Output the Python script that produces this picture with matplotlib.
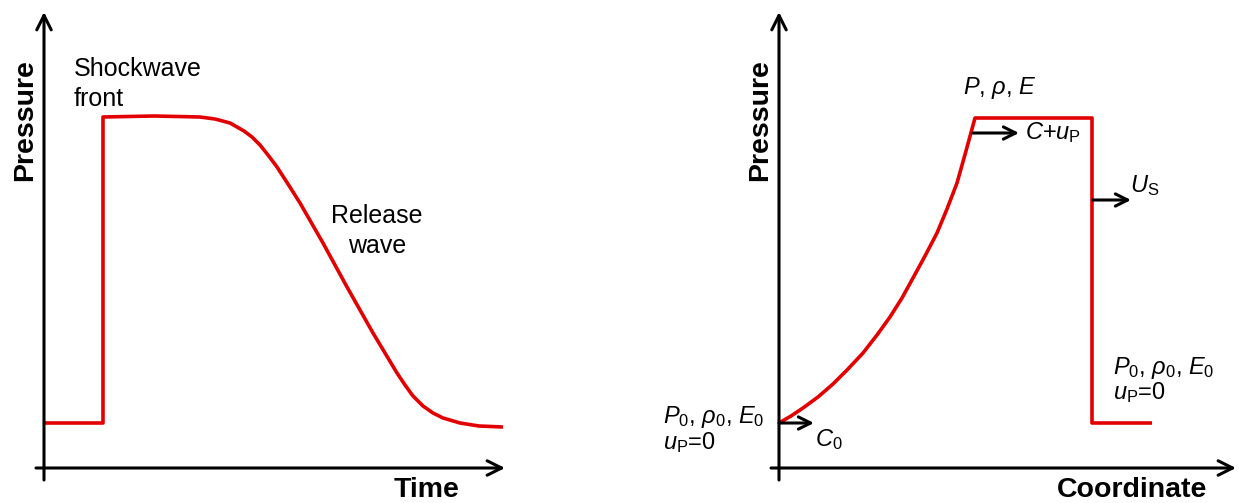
import matplotlib.pyplot as plt

plt.rcParams['font.family'] = ['Liberation Sans', 'DejaVu Sans']
plt.rcParams['mathtext.fontset'] = 'custom'
plt.rcParams['mathtext.rm'] = 'Liberation Sans'
plt.rcParams['mathtext.it'] = 'Liberation Sans:italic'
plt.rcParams['mathtext.bf'] = 'Liberation Sans:bold'

# === dados (unidades arbitrarias) ===
# painel esquerdo: pressao x tempo
tempo = [0, 59, 59, 110, 156, 171, 186, 200, 208, 216, 224, 233, 244, 256, 279, 303,
         329, 353, 361, 369, 379, 389, 399, 416, 435, 459]
pressao_t = [45, 45, 351, 352, 351, 349, 345, 337, 331, 323, 313, 301, 284, 265, 225, 181,
             135, 95, 83, 72, 62, 55, 50, 45, 42, 41]

# painel direito: pressao x coordenada
coord = [0, 12, 24, 39, 54, 69, 84, 98, 111, 123, 134, 146, 158, 168, 178, 187, 196,
         313, 313, 373]
pressao_c = [45, 52, 60, 71, 84, 99, 115, 133, 151, 170, 190, 212, 235, 259, 285, 317, 350,
             350, 45, 45]

vermelho = '#e30000'
fs_txt = 18
fs_mat = 17
fs_eixo = 20.5

fig = plt.figure(figsize=(12.39, 5.03), dpi=100)
ax1 = fig.add_axes([0, 0, 1, 1])
ax2 = fig.add_axes([0, 0, 1, 1])
ax2.patch.set_alpha(0)

ax1.set_xlim(-44, 1195)
ax1.set_ylim(-35, 468)
ax2.set_xlim(-779, 460)
ax2.set_ylim(-35, 468)


def eixos(ax, xmax, xlab, xlab_pos):
    seta = dict(arrowstyle='->', lw=2.2, color='black', mutation_scale=26,
                shrinkA=0, shrinkB=0)
    ax.annotate('', xy=(xmax, 0), xytext=(-8, 0), arrowprops=seta)
    ax.annotate('', xy=(0, 456), xytext=(0, -12), arrowprops=seta)
    ax.text(-19, 348, 'Pressure', rotation=90, ha='center', va='center',
            fontsize=fs_eixo, fontweight='bold')
    ax.text(xlab_pos, -22, xlab, ha='center', va='center', fontsize=fs_eixo,
            fontweight='bold')
    ax.axis('off')


def seta_peq(ax, x0, x1, y):
    ax.annotate('', xy=(x1, y), xytext=(x0, y),
                arrowprops=dict(arrowstyle='->', lw=2.2, color='black',
                                mutation_scale=22, shrinkA=0, shrinkB=0))


# === painel esquerdo ===
eixos(ax1, 461, 'Time', 383)
ax1.plot(tempo, pressao_t, color=vermelho, lw=2.6, solid_joinstyle='round',
         solid_capstyle='butt')
ax1.text(30, 384, 'Shockwave\nfront', ha='left', va='center', fontsize=fs_txt,
         linespacing=1.3)
ax1.text(333, 237, 'Release\nwave', ha='center', va='center', fontsize=fs_txt,
         linespacing=1.3, multialignment='center')

# === painel direito ===
eixos(ax2, 457, 'Coordinate', 353)
ax2.plot(coord, pressao_c, color=vermelho, lw=2.6, solid_joinstyle='round',
         solid_capstyle='butt')
ax2.text(221, 380, r'$P$, $\rho$, $E$', ha='center', va='center', fontsize=fs_mat)
seta_peq(ax2, 194, 240, 335)
ax2.text(246, 335, r'$C$+$u_{\mathrm{P}}$', ha='left', va='center', fontsize=fs_mat)
seta_peq(ax2, 314, 352, 268)
ax2.text(351, 282, r'$U_{\mathrm{S}}$', ha='left', va='center', fontsize=fs_mat)
seta_peq(ax2, 0, 35, 45)
ax2.text(36, 28, r'$C_0$', ha='left', va='center', fontsize=fs_mat)
ax2.text(-116, 51, r'$P_0$, $\rho_0$, $E_0$', ha='left', va='center', fontsize=fs_mat)
ax2.text(-116, 25, r'$u_{\mathrm{P}}$=0', ha='left', va='center', fontsize=fs_mat)
ax2.text(334, 100, r'$P_0$, $\rho_0$, $E_0$', ha='left', va='center', fontsize=fs_mat)
ax2.text(334, 75, r'$u_{\mathrm{P}}$=0', ha='left', va='center', fontsize=fs_mat)

fig.savefig('out.png', dpi=100)
